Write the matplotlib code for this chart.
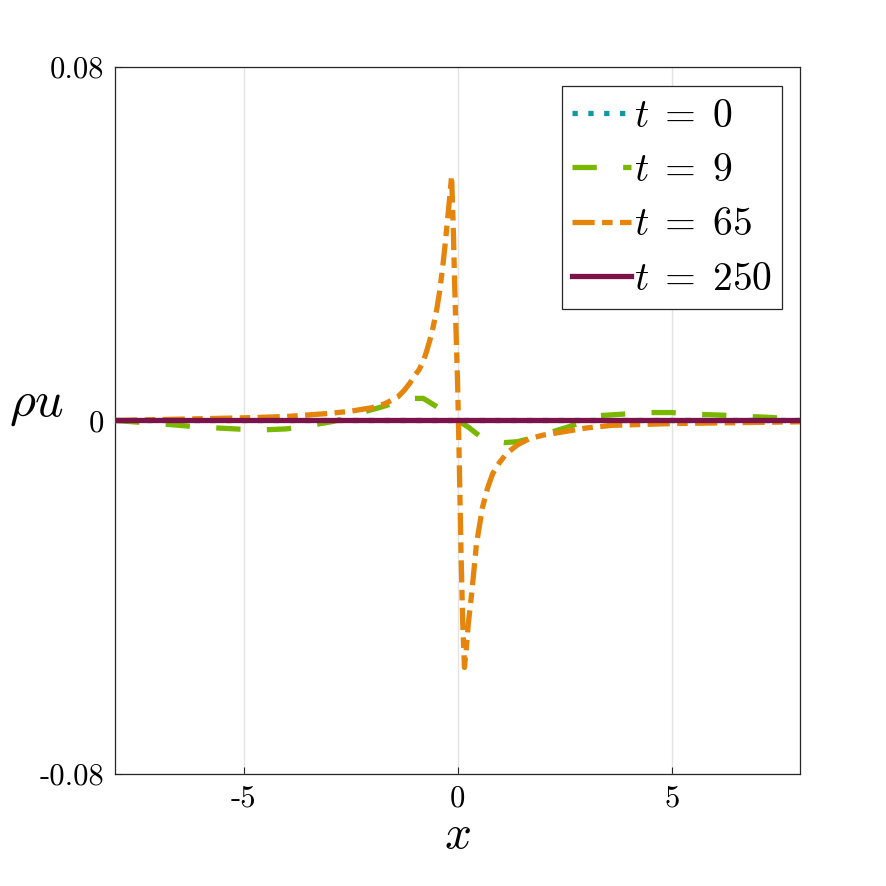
import numpy as np
import matplotlib
matplotlib.use("Agg")
from matplotlib import pyplot as plt

plt.rcParams['mathtext.fontset'] = 'cm'
plt.rcParams['axes.unicode_minus'] = False

# t = 0 and t = 250 lie on zero
x_flat = [-8, 8]
t0 = [0, 0]
t250 = [0, 0]

# t = 9
x9 = [-8, -7, -6, -5, -4.5, -4, -3.5, -3.2, -2.9, -2.5, -2.1, -1.8, -1.4, -1.0, -0.8, -0.5,
      -0.25, 0, 0.25, 0.5, 0.8, 1.1, 1.4, 1.8, 2.2, 2.6, 3.0, 3.3, 3.8, 4.4, 5.0, 5.6, 6.2, 6.8, 7.3, 8]
rho_u9 = [0, -0.0007, -0.0015, -0.002, -0.0021, -0.0019, -0.0013, -0.0007, -0.0002, 0.0008, 0.0022,
          0.003, 0.0042, 0.005, 0.005, 0.0032, 0.0015, 0, -0.0015, -0.0034, -0.0046, -0.005, -0.0048,
          -0.0038, -0.0026, -0.0014, 0.0, 0.0011, 0.0014, 0.0018, 0.0018, 0.0014, 0.0012, 0.0009, 0.0007, 0.0002]

# t = 65
x65 = [-8, -7, -6, -5, -4, -3, -2.5, -2, -1.7, -1.4, -1.25, -1.12, -1.0, -0.9, -0.8, -0.72, -0.6,
       -0.49, -0.42, -0.35, -0.29, -0.23, -0.18, -0.14, -0.1, -0.07, -0.03, 0, 0.04, 0.08, 0.12,
       0.16, 0.2, 0.25, 0.33, 0.44, 0.58, 0.7, 0.82, 0.98, 1.14, 1.4, 1.68, 2.0, 2.45, 3.0, 3.6,
       5, 6.5, 8]
rho_u65 = [0.0, 0.0002, 0.0004, 0.0006, 0.0009, 0.0016, 0.0021, 0.0029, 0.0038, 0.0053, 0.0068,
           0.0084, 0.0102, 0.0115, 0.0135, 0.0158, 0.0198, 0.025, 0.0292, 0.0346, 0.04, 0.046, 0.051,
           0.0554, 0.043, 0.031, 0.018, 0.0084, -0.01, -0.03, -0.046, -0.0559, -0.052, -0.046, -0.039,
           -0.028, -0.0197, -0.0153, -0.012, -0.0095, -0.0075, -0.0055, -0.0041, -0.0033, -0.0026,
           -0.0017, -0.0011, -0.0007, -0.0005, -0.0003]

c_teal = '#12989e'
c_green = '#7ab800'
c_orange = '#e5850c'
c_purple = '#7b124a'

fig = plt.figure(figsize=(8.86, 8.86), dpi=100)
ax = fig.add_axes([0.130, 0.1264, 0.773, 0.798])

lw = 3.8
ax.plot(x_flat, t0, color=c_teal, lw=lw, dashes=(1.0, 2.0), label=r'$t\;=\;0$', zorder=3)
ax.plot(x9, rho_u9, color=c_green, lw=lw, dashes=(4.6, 5.0), label=r'$t\;=\;9$', zorder=4)
ax.plot(x65, rho_u65, color=c_orange, lw=lw, dashes=(4.2, 1.4, 2.0, 1.4), label=r'$t\;=\;65$', zorder=5)
ax.plot(x_flat, t250, color=c_purple, lw=lw, label=r'$t\;=\;250$', zorder=6)

ax.set_xlim(-8, 8)
ax.set_ylim(-0.08, 0.08)
ax.set_xticks([-5, 0, 5])
ax.set_xticklabels(['-5', '0', '5'], fontfamily='cmr10', fontsize=22)
ax.set_yticks([-0.08, 0, 0.08])
ax.set_yticklabels(['-0.08', '0', '0.08'], fontfamily='cmr10', fontsize=22)
ax.tick_params(direction='in', length=5, width=0.8, color='#262626', pad=8)
ax.grid(True, color='#e3e3e3', lw=1)
ax.set_axisbelow(True)
for s in ax.spines.values():
    s.set_color('#262626')
    s.set_linewidth(0.9)

ax.set_xlabel(r'$x$', fontsize=34, labelpad=0)
ax.set_ylabel(r'$\rho u$', fontsize=36, rotation=0, labelpad=0)
ax.yaxis.set_label_coords(-0.115, 0.49)

leg = ax.legend(loc='upper right', bbox_to_anchor=(0.974, 0.973), fontsize=28.5,
                handlelength=1.5, handletextpad=0.08, labelspacing=0.36, borderpad=0.25,
                borderaxespad=0, fancybox=False, framealpha=1, edgecolor='#262626')
leg.get_frame().set_linewidth(0.9)

fig.savefig('out.png', dpi=100)
